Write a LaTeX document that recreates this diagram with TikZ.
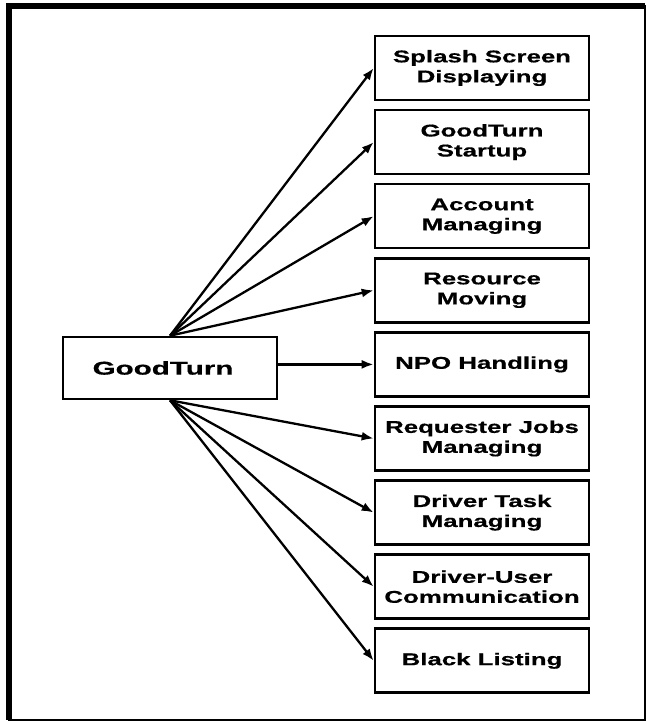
\documentclass[tikz,border=0pt]{standalone}
\usepackage{fontspec}
\setmainfont{Liberation Sans}[FakeStretch=1.52,BoldFeatures={FakeBold=0.6}]
\newfontfamily\rootfont{Liberation Sans}[FakeStretch=1.60,BoldFeatures={FakeBold=0.6}]
\usetikzlibrary{arrows.meta,positioning}

\begin{document}
\begin{tikzpicture}[
  x=1pt, y=1pt, >={Latex[length=12pt,width=9pt]},
  font=\bfseries\fontsize{17}{20}\selectfont,
  root/.style={draw,line width=2.6pt,minimum width=214pt,minimum height=62pt,inner sep=0pt,
    font=\rootfont\bfseries\fontsize{18.5}{21}\selectfont},
  sub/.style={draw,line width=2.6pt,minimum width=214pt,minimum height=64pt,inner sep=0pt,align=center},
  lnk/.style={->,line width=2.3pt},
]
\useasboundingbox (0,0) rectangle (647,722);
% ===== frame =====
\draw[line width=2pt] (9,2) rectangle (645,715.5);
\draw[line width=6pt] (9,2) -- (9,715.5) -- (645,715.5);

% ===== root =====
\node[root] (gt) at (170,354) {GoodTurn\hspace*{14pt}};

% ===== sub-systems =====
\node[sub] (s1) at (482,654.0) {Splash Screen\\Displaying};
\node[sub] (s2) at (482,579.9) {GoodTurn\\Startup};
\node[sub] (s3) at (482,505.8) {Account\\Managing};
\node[sub] (s4) at (482,431.7) {Resource\\Moving};
\node[sub] (s5) at (482,357.6) {NPO Handling};
\node[sub] (s6) at (482,283.5) {Requester Jobs\\Managing};
\node[sub] (s7) at (482,209.4) {Driver Task\\Managing};
\node[sub] (s8) at (482,135.3) {Driver-User\\Communication};
\node[sub] (s9) at (482, 61.2) {Black Listing};

% ===== links =====
\foreach \n in {s1,s2,s3,s4}{ \draw[lnk] (gt.north) -- (\n.west); }
\draw[lnk] (s5.west -| gt.east) -- (s5.west);
\foreach \n in {s6,s7,s8,s9}{ \draw[lnk] (gt.south) -- (\n.west); }
\end{tikzpicture}
\end{document}
